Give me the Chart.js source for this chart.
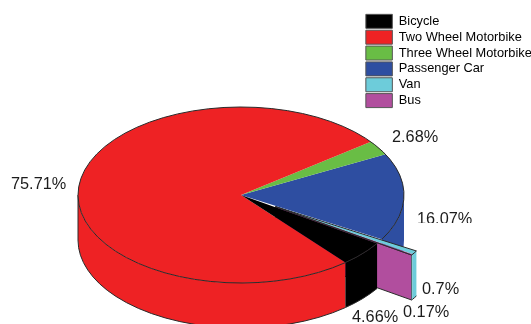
<!DOCTYPE html>
<html>
<head>
<meta charset="utf-8">
<style>
  html, body { margin: 0; padding: 0; background: #fff; }
  canvas { display: block; }
</style>
<script src="https://cdn.jsdelivr.net/npm/chart.js@4/dist/chart.umd.min.js"></script>
</head>
<body>
<canvas id="shareChart" width="531" height="324"></canvas>
<script>
// Vehicle type shares, in percent
const vehicleTypes = ['Bicycle', 'Two Wheel Motorbike', 'Three Wheel Motorbike', 'Passenger Car', 'Van', 'Bus'];
const vehicleShares = [4.66, 75.71, 2.68, 16.07, 0.7, 0.17];
const sliceColors = ['#000000', '#EE2224', '#69BD45', '#2E4EA1', '#6DCCDA', '#B14E9E'];

// Disc projection: the circular pie is squashed into an ellipse and extruded
const disc = { cx: 241, cy: 195, rx: 163, ry: 88, depth: 45 };
const explodedFraction = 0.25;
const explodedSlices = [4, 5];
const edgeColor = '#2a2a2a';

// Where each percentage label sits: left edge, baseline
const labelSpots = [
  { x: 352, y: 322 },
  { x: 11, y: 189 },
  { x: 392, y: 142 },
  { x: 417, y: 224, clipBelow: 223 },
  { x: 422, y: 294 },
  { x: 403, y: 317 }
];

const TAU = Math.PI * 2;

// Parts of an angular range that face the viewer (lower half of the ellipse)
function visibleRanges(a0, a1) {
  const out = [];
  for (let k = -1; k <= 2; k++) {
    const lo = Math.max(a0, k * TAU);
    const hi = Math.min(a1, k * TAU + Math.PI);
    if (hi > lo) out.push([lo, hi]);
  }
  return out;
}

function drawWall(ctx, a0, a1, color, ox, oy, outlined) {
  const { cx, cy, rx, ry, depth } = disc;
  visibleRanges(a0, a1).forEach(([lo, hi]) => {
    ctx.beginPath();
    ctx.ellipse(cx + ox, cy + oy, rx, ry, 0, lo, hi);
    ctx.ellipse(cx + ox, cy + oy + depth, rx, ry, 0, hi, lo, true);
    ctx.closePath();
    ctx.fillStyle = color;
    ctx.fill();
    if (!outlined) return;
    ctx.beginPath();
    ctx.ellipse(cx + ox, cy + oy + depth, rx, ry, 0, lo, hi);
    ctx.stroke();
    // silhouette edge where the wall turns away at the far left
    [lo, hi].forEach(a => {
      if (Math.abs(Math.sin(a)) < 1e-6) {
        const x = cx + ox + rx * Math.cos(a);
        ctx.beginPath();
        ctx.moveTo(x, cy + oy);
        ctx.lineTo(x, cy + oy + depth);
        ctx.stroke();
      }
    });
  });
}

// Top face of one slice, using the element's own arc geometry
function drawTop(ctx, arc, ox, oy) {
  const { cx, cy, rx, ry } = disc;
  ctx.save();
  ctx.translate(cx + ox, cy + oy);
  ctx.scale(rx / arc.outerRadius, ry / arc.outerRadius);
  ctx.translate(-arc.x, -arc.y);
  arc.draw(ctx);
  ctx.restore();
}

const discPlugin = {
  id: 'extrudedDisc',
  afterLayout(chart) {
    // Legend floats in the top right corner without taking up layout room
    const lg = chart.legend;
    lg.left = 364;
    lg.top = 12.5;
    lg.right = lg.left + lg.width;
    lg.bottom = lg.top + lg.height + 10;
  },
  beforeDatasetsDraw(chart) {
    const ctx = chart.ctx;
    const arcs = chart.getDatasetMeta(0).data;
    const { cx, cy, rx, ry, depth } = disc;
    ctx.save();
    ctx.lineWidth = 1;
    ctx.strokeStyle = edgeColor;

    // Back walls: passenger car and three wheel slices
    [3, 2].forEach(i => drawWall(ctx, arcs[i].startAngle, arcs[i].endAngle, sliceColors[i], 0, 0, false));

    // Pulled-out wedge
    const first = arcs[explodedSlices[0]];
    const last = arcs[explodedSlices[explodedSlices.length - 1]];
    const mid = (first.startAngle + last.endAngle) / 2;
    const ox = Math.cos(mid) * rx * explodedFraction;
    const oy = Math.sin(mid) * ry * explodedFraction;
    const sx = cx + ox + rx * Math.cos(first.startAngle);
    const sy = cy + oy + ry * Math.sin(first.startAngle);
    const ex = cx + ox + rx * Math.cos(last.endAngle);
    const ey = cy + oy + ry * Math.sin(last.endAngle);
    ctx.beginPath();
    ctx.moveTo(cx + ox, cy + oy);
    ctx.lineTo(ex, ey);
    ctx.lineTo(ex, ey + depth);
    ctx.lineTo(cx + ox, cy + oy + depth);
    ctx.closePath();
    ctx.fillStyle = sliceColors[5];
    ctx.fill();
    ctx.stroke();
    explodedSlices.forEach(i => drawWall(ctx, arcs[i].startAngle, arcs[i].endAngle, sliceColors[4], ox, oy, true));
    explodedSlices.forEach(i => drawTop(ctx, arcs[i], ox, oy));
    ctx.beginPath();
    ctx.moveTo(sx, sy);
    ctx.lineTo(cx + ox, cy + oy);
    ctx.lineTo(ex, ey);
    ctx.stroke();
    ctx.beginPath();
    ctx.ellipse(cx + ox, cy + oy, rx, ry, 0, first.startAngle, last.endAngle);
    ctx.stroke();

    // Front walls: motorbike and bicycle slices
    [1, 0].forEach(i => drawWall(ctx, arcs[i].startAngle, arcs[i].endAngle, sliceColors[i], 0, 0, true));

    // Remaining top faces and their rim
    [3, 2, 1, 0].forEach(i => drawTop(ctx, arcs[i], 0, 0));
    ctx.beginPath();
    ctx.ellipse(cx, cy, rx, ry, 0, arcs[0].startAngle, arcs[3].endAngle);
    ctx.stroke();

    // Percentage labels
    ctx.font = '16.3px "Liberation Sans", Arial, sans-serif';
    ctx.fillStyle = '#1c1c1c';
    ctx.textAlign = 'left';
    ctx.textBaseline = 'alphabetic';
    vehicleShares.forEach((v, i) => {
      const spot = labelSpots[i];
      ctx.save();
      if (spot.clipBelow) {
        ctx.beginPath();
        ctx.rect(0, 0, chart.width, spot.clipBelow);
        ctx.clip();
      }
      ctx.fillText(v + '%', spot.x, spot.y);
      ctx.restore();
    });
    ctx.restore();
    return false;
  }
};

new Chart(document.getElementById('shareChart'), {
  type: 'pie',
  data: {
    labels: vehicleTypes,
    datasets: [{
      data: vehicleShares,
      backgroundColor: sliceColors,
      borderWidth: 0
    }]
  },
  options: {
    responsive: false,
    animation: false,
    rotation: 123.4,
    plugins: {
      tooltip: { enabled: false },
      legend: {
        position: 'chartArea',
        align: 'start',
        labels: {
          boxWidth: 26.5,
          boxHeight: 14,
          padding: 1.85,
          color: '#1c1c1c',
          font: { family: '"Liberation Sans", Arial, sans-serif', size: 12.8 },
          generateLabels(chart) {
            return vehicleTypes.map((t, i) => ({
              text: t,
              fillStyle: sliceColors[i],
              strokeStyle: '#555555',
              lineWidth: 1,
              index: i
            }));
          }
        }
      }
    }
  },
  plugins: [discPlugin]
});
</script>
</body>
</html>
